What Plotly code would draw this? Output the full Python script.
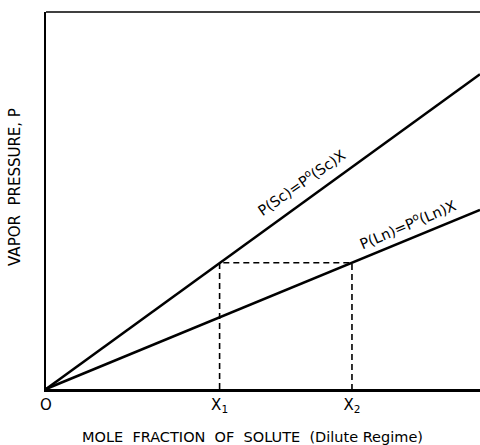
import plotly.graph_objects as go

# Data (arbitrary units)
x_line = [0.0, 1.0]
p_sc = [0.0, 0.835]
p_ln = [0.0, 0.475]
x1 = 0.40
x2 = 0.705
p_level = 0.335
tick_vals = [0.0, x1, x2]
tick_text = ["O", "X<sub>1</sub>", "X<sub>2</sub>"]

FONT = "DejaVu Sans"

fig = go.Figure()
fig.add_trace(go.Scatter(x=x_line, y=p_sc, mode="lines",
                         line=dict(color="black", width=2.6), cliponaxis=False))
fig.add_trace(go.Scatter(x=x_line, y=p_ln, mode="lines",
                         line=dict(color="black", width=2.6), cliponaxis=False))
fig.add_trace(go.Scatter(x=[x1, x1, x2, x2], y=[0, p_level, p_level, 0], mode="lines",
                         line=dict(color="black", width=1.6, dash="6px,4px"), cliponaxis=False))

fig.add_annotation(x=0.588, y=0.548, xref="x", yref="y",
                   text="P(Sc)=P<sup>o</sup>(Sc)X", showarrow=False, textangle=-35,
                   font=dict(family=FONT, size=14.5, color="black"))
fig.add_annotation(x=0.832, y=0.438, xref="x", yref="y",
                   text="P(Ln)=P<sup>o</sup>(Ln)X", showarrow=False, textangle=-23,
                   font=dict(family=FONT, size=14.5, color="black"))

# axis titles placed as annotations
fig.add_annotation(x=0.475, y=0, xref="paper", yref="paper", yshift=-48,
                   xanchor="center", yanchor="middle", showarrow=False,
                   text="MOLE  FRACTION  OF  SOLUTE  (Dilute Regime)",
                   font=dict(family=FONT, size=14.5, color="black"))
fig.add_annotation(x=0, y=0.536, xref="paper", yref="paper", xshift=-31,
                   xanchor="center", yanchor="middle", showarrow=False, textangle=-90,
                   text="VAPOR  PRESSURE, P",
                   font=dict(family=FONT, size=15, color="black"))

# top frame line
fig.add_shape(type="line", xref="paper", yref="paper", x0=0, x1=1, y0=1, y1=1,
              line=dict(color="black", width=1.5))

fig.update_layout(
    width=480, height=445,
    margin=dict(l=46, r=0, t=12, b=56),
    plot_bgcolor="white", paper_bgcolor="white",
    showlegend=False,
    font=dict(family=FONT, color="black"),
    xaxis=dict(range=[0, 1], showgrid=False, zeroline=False,
               showline=True, linecolor="black", linewidth=3,
               tickmode="array", tickvals=tick_vals, ticktext=tick_text,
               ticks="", tickfont=dict(family=FONT, size=15, color="black")),
    yaxis=dict(range=[0, 1], showgrid=False, zeroline=False,
               showline=True, linecolor="black", linewidth=1.5,
               showticklabels=False, ticks=""),
)

fig.write_html("out.html", config={"displayModeBar": False},
               post_script="document.body.style.margin='0';")
